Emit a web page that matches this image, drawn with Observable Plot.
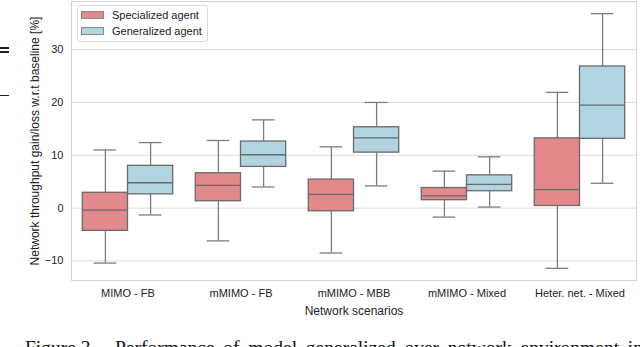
<!DOCTYPE html>
<html>
<head>
<meta charset="utf-8">
<script src="https://cdn.jsdelivr.net/npm/d3@7"></script>
<script src="https://cdn.jsdelivr.net/npm/@observablehq/plot@0.6"></script>
<style>
  html, body { margin: 0; padding: 0; background: #fff; }
  #wrap { position: relative; width: 640px; height: 347px; overflow: hidden; font-family: "Liberation Sans", Arial, sans-serif; }
  #legend { position: absolute; left: 77px; top: 5px; width: 129px; height: 35px; border: 1px solid #dcdcdc; border-radius: 3px; background: #fff; font-size: 11px; color: #222; }
  .li { position: absolute; left: 3px; height: 12px; display: flex; align-items: center; }
  .sw { width: 21px; height: 6px; border: 1px solid #8a8a8a; margin-right: 8px; }
  .cap { position: absolute; top: 338px; font-family: "Liberation Serif", "Times New Roman", serif; font-size: 19.5px; line-height: 1; color: #111; white-space: nowrap; }
  #cap2 { text-align: justify; text-align-last: justify; width: 528px; white-space: normal; }
  .art { position: absolute; left: 0; width: 9px; background: #222; }
</style>
</head>
<body>
<div id="wrap">
  <div id="chart"></div>
  <div id="legend"></div>
  <div class="art" style="top:47px;height:2px"></div>
  <div class="art" style="top:51px;height:2px"></div>
  <div class="art" style="top:95px;height:1px"></div>
  <div class="cap" style="left:25px">Figure 3.</div>
  <div class="cap" id="cap2" style="left:115px">Performance of model generalized over network environment in</div>
</div>
<script>
const categories = ["MIMO - FB", "mMIMO - FB", "mMIMO - MBB", "mMIMO - Mixed", "Heter. net. - Mixed"];
const agents = ["Specialized agent", "Generalized agent"];
const colors = ["#e2898b", "#b0d4e0"];

const specLow  = [-10.4, -6.2, -8.5, -1.7, -11.4];
const specQ1   = [-4.3, 1.3, -0.6, 1.5, 0.4];
const specMed  = [-0.4, 4.3, 2.6, 2.3, 3.5];
const specQ3   = [2.9, 6.6, 5.4, 3.8, 13.2];
const specHigh = [11.0, 12.8, 11.6, 7.0, 21.9];

const genLow  = [-1.3, 4.0, 4.2, 0.2, 4.7];
const genQ1   = [2.6, 7.8, 10.5, 3.2, 13.1];
const genMed  = [4.8, 10.1, 13.3, 4.5, 19.5];
const genQ3   = [8.0, 12.6, 15.3, 6.2, 26.8];
const genHigh = [12.4, 16.7, 20.0, 9.7, 36.8];

const yTicks = [-10, 0, 10, 20, 30];
const xTitle = "Network scenarios";
const yTitle = "Network throughput gain/loss w.r.t baseline [%]";

const mk = (low, q1, med, q3, high) => categories.map((c, i) => ({cat: c, low: low[i], q1: q1[i], med: med[i], q3: q3[i], high: high[i]}));
const series = [mk(specLow, specQ1, specMed, specQ3, specHigh), mk(genLow, genQ1, genMed, genQ3, genHigh)];

const width = 640, marginLeft = 71, marginRight = 4;
const step = (width - marginLeft - marginRight) / categories.length;
const boxStroke = "#6a6a6a", whiskStroke = "#7d7d7d";

const marks = [Plot.gridY(yTicks, {stroke: "#dcdcdc", strokeOpacity: 1, strokeWidth: 1})];
series.forEach((data, k) => {
  const left = k === 0 ? 0.1 * step : 0.5 * step;
  const right = k === 0 ? 0.5 * step : 0.1 * step;
  const dx = (k === 0 ? -0.2 : 0.2) * step;
  marks.push(
    Plot.ruleX(data, {x: "cat", y1: "low", y2: "q1", dx, stroke: whiskStroke, strokeWidth: 1.3}),
    Plot.ruleX(data, {x: "cat", y1: "q3", y2: "high", dx, stroke: whiskStroke, strokeWidth: 1.3}),
    Plot.tickY(data, {x: "cat", y: "low", insetLeft: left + 0.1 * step, insetRight: right + 0.1 * step, stroke: whiskStroke, strokeWidth: 1.3}),
    Plot.tickY(data, {x: "cat", y: "high", insetLeft: left + 0.1 * step, insetRight: right + 0.1 * step, stroke: whiskStroke, strokeWidth: 1.3}),
    Plot.rectY(data, {x: "cat", y1: "q1", y2: "q3", insetLeft: left, insetRight: right, fill: colors[k], stroke: boxStroke, strokeWidth: 1.3}),
    Plot.tickY(data, {x: "cat", y: "med", insetLeft: left, insetRight: right, stroke: boxStroke, strokeWidth: 1.3})
  );
});
marks.push(
  Plot.frame({stroke: "#d2d2d2", strokeWidth: 1}),
  Plot.text([xTitle], {frameAnchor: "bottom", dy: 31, textAnchor: "middle", lineAnchor: "middle", fontSize: 12, fill: "#222"}),
  Plot.text([yTitle], {frameAnchor: "left", dx: -36, rotate: -90, textAnchor: "middle", lineAnchor: "middle", fontSize: 12, fill: "#222"})
);

const chart = Plot.plot({
  width, height: 322,
  marginLeft, marginRight, marginTop: 1, marginBottom: 42,
  style: {fontFamily: "'Liberation Sans', Arial, sans-serif", fontSize: "11px", color: "#222", background: "transparent"},
  x: {domain: categories, padding: 0, tickSize: 0, tickPadding: 9, label: null},
  y: {domain: [-13.7, 39.1], ticks: yTicks, tickSize: 0, tickPadding: 8, tickFormat: d => d < 0 ? "\u2212" + Math.abs(d) : String(d), label: null},
  marks
});
document.getElementById("chart").appendChild(chart);

const legend = document.getElementById("legend");
agents.forEach((a, k) => {
  const it = document.createElement("div");
  it.className = "li";
  it.style.top = (k === 0 ? 3 : 19) + "px";
  const sw = document.createElement("span");
  sw.className = "sw";
  sw.style.background = colors[k];
  const t = document.createElement("span");
  t.textContent = a;
  it.appendChild(sw); it.appendChild(t);
  legend.appendChild(it);
});
</script>
</body>
</html>
